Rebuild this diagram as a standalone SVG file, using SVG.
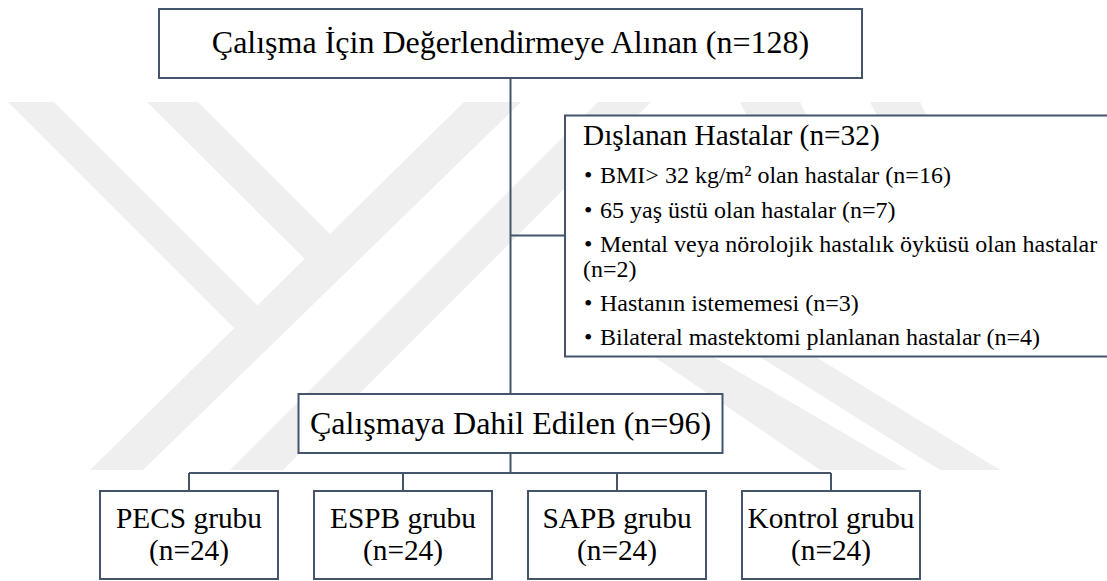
<svg xmlns="http://www.w3.org/2000/svg" width="1107" height="581" viewBox="0 0 1107 581">
  <style>
    .box { fill: #ffffff; stroke: #44546a; stroke-width: 2; }
    .ln { stroke: #44546a; stroke-width: 2; fill: none; }
    .wm { fill: #efefef; stroke: none; }
    .t32 { font-size: 32px; }
    .t29 { font-size: 29.33px; }
    .t24 { font-size: 24px; }
    .mid { text-anchor: middle; }
  </style>
  <rect x="0" y="0" width="1107" height="581" fill="#ffffff"/>
  <g id="watermark">
    <polygon class="wm" points="8,102 54,102 284,332 234,328"/>
    <polygon class="wm" points="147,102 198,102 345,249 320,274"/>
    <polygon class="wm" points="464,102 521,102 143,470 90,470"/>
    <polygon class="wm" points="598,102 651,102 283,470 230,470"/>
    <polygon class="wm" points="600,320 650,320 907,470 820,470"/>
    <polygon class="wm" points="717,330 772,330 1000,470 940,470"/>
    <polygon class="wm" points="740,102 800,102 814,130 754,130"/>
    <polygon class="wm" points="870,102 920,102 934,130 884,130"/>
  </g>
  <g id="connectors">
    <line class="ln" x1="510.5" y1="78" x2="510.5" y2="394"/>
    <line class="ln" x1="510.5" y1="235.5" x2="565" y2="235.5"/>
    <line class="ln" x1="510.5" y1="453" x2="510.5" y2="473"/>
    <line class="ln" x1="189" y1="473" x2="831" y2="473"/>
    <line class="ln" x1="189" y1="473" x2="189" y2="491"/>
    <line class="ln" x1="403" y1="473" x2="403" y2="491"/>
    <line class="ln" x1="617" y1="473" x2="617" y2="491"/>
    <line class="ln" x1="831" y1="473" x2="831" y2="491"/>
  </g>
  <g font-family="'Liberation Serif', 'DejaVu Serif', serif" fill="#000000">
  <g id="node-screened">
    <rect class="box" x="159" y="9" width="703" height="69"/>
    <text class="t32 mid" x="510.5" y="53">Çalışma İçin Değerlendirmeye Alınan (n=128)</text>
  </g>
  <g id="node-excluded">
    <rect class="box" x="565" y="115.5" width="560" height="241"/>
    <text class="t29" x="583" y="144.5">Dışlanan Hastalar (n=32)</text>
    <text class="t24" x="584" y="182.5">•</text>
    <text class="t24" x="600" y="182.5">BMI&gt; 32 kg/m² olan hastalar (n=16)</text>
    <text class="t24" x="584" y="218">•</text>
    <text class="t24" x="600" y="218">65 yaş üstü olan hastalar (n=7)</text>
    <text class="t24" x="584" y="252">•</text>
    <text class="t24" x="600" y="252">Mental veya nörolojik hastalık öyküsü olan hastalar</text>
    <text class="t24" x="583" y="277">(n=2)</text>
    <text class="t24" x="584" y="310.5">•</text>
    <text class="t24" x="600" y="310.5">Hastanın istememesi (n=3)</text>
    <text class="t24" x="584" y="345">•</text>
    <text class="t24" x="600" y="345">Bilateral mastektomi planlanan hastalar (n=4)</text>
  </g>
  <g id="node-included">
    <rect class="box" x="298.5" y="394" width="424" height="59"/>
    <text class="t32 mid" x="510.5" y="434">Çalışmaya Dahil Edilen (n=96)</text>
  </g>
  <g id="node-pecs">
    <rect class="box" x="100" y="491" width="178" height="88"/>
    <text class="t29 mid" x="189" y="528">PECS grubu</text>
    <text class="t29 mid" x="189" y="560">(n=24)</text>
  </g>
  <g id="node-espb">
    <rect class="box" x="314" y="491" width="178" height="88"/>
    <text class="t29 mid" x="403" y="528">ESPB grubu</text>
    <text class="t29 mid" x="403" y="560">(n=24)</text>
  </g>
  <g id="node-sapb">
    <rect class="box" x="528" y="491" width="178" height="88"/>
    <text class="t29 mid" x="617" y="528">SAPB grubu</text>
    <text class="t29 mid" x="617" y="560">(n=24)</text>
  </g>
  <g id="node-kontrol">
    <rect class="box" x="742" y="491" width="178" height="88"/>
    <text class="t29 mid" x="831" y="528">Kontrol grubu</text>
    <text class="t29 mid" x="831" y="560">(n=24)</text>
  </g>
  </g>
</svg>
